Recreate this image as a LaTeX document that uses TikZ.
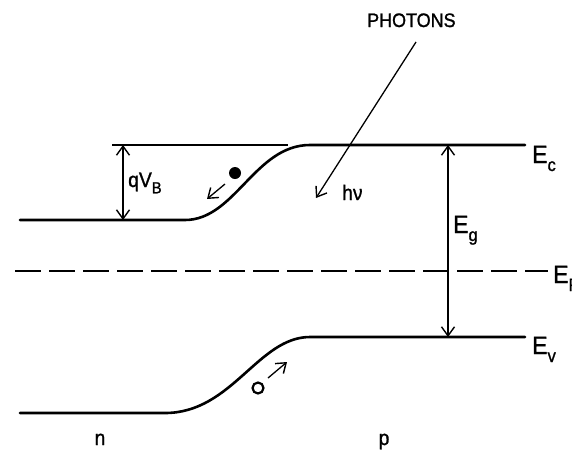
\documentclass[tikz,border=0pt]{standalone}
\usepackage{fontspec}
\setmainfont{Liberation Sans}[FakeBold=1.2,FakeStretch=0.92]
\usetikzlibrary{arrows.meta,shapes.geometric}
\newcommand\bandlab[2]{#1\raisebox{-.32em}{\fontsize{18}{18}\selectfont #2}}
\tikzset{
  band/.style={line width=2.6pt, line cap=round},
  thin/.style={line width=1.3pt},
  barb/.tip={Straight Barb[length=9pt,width=13pt,line width=1.4pt]},
  tip/.style={-barb},
  dtip/.style={barb-barb},
  lab/.style={inner sep=0pt, anchor=base west, font=\fontsize{25}{25}\selectfont},
  small/.style={inner sep=0pt, anchor=base west, font=\fontsize{21}{21}\selectfont}
}
\begin{document}
\begin{tikzpicture}[x=1pt,y=-1pt]
\useasboundingbox (0,0) rectangle (572,453);
% conduction band
\coordinate (c0) at (20,220);
\coordinate (c1) at (185,220);
\coordinate (c2) at (310,145);
\coordinate (c3) at (525,145);
\draw[band] (c0) -- (c1) .. controls (235,220) and (255,145) .. (c2) -- (c3);
% valence band
\coordinate (v0) at (20,413);
\coordinate (v1) at (165,413);
\coordinate (v2) at (310,337);
\coordinate (v3) at (525,337);
\draw[band] (v0) -- (v1) .. controls (232,413) and (258,337) .. (v2) -- (v3);
% Fermi level
\coordinate (f0) at (15,271);
\coordinate (f1) at (548,271);
\draw[line width=1.6pt, dash pattern=on 26pt off 8pt] (f0) -- (f1);
% reference line for qVB
\coordinate (r0) at (112,145);
\coordinate (r1) at (288,145);
\draw[thin] (r0) -- (r1);
% qVB arrow
\coordinate (qa) at (123,145);
\coordinate (qb) at (123,220);
\draw[thin, dtip] (qa) -- (qb);
\node[small] (qvb) at (128,187) {qV\raisebox{-.3em}{\fontsize{16}{16}\selectfont B}};
% Eg arrow
\coordinate (ga) at (448,145);
\coordinate (gb) at (448,337);
\draw[thin, dtip] (ga) -- (gb);
\node[lab] (eg) at (453,233) {\bandlab{E}{g}};
% band labels
\node[lab] (ec) at (532,163) {\bandlab{E}{c}};
\node[lab] (ef) at (553,283) {\bandlab{E}{F}};
\node[lab] (ev) at (532,354) {\bandlab{E}{v}};
% photons
\node[inner sep=0pt, anchor=base west, font=\fontsize{19.5}{19.5}\selectfont] (ph) at (367,27) {PHOTONS};
\coordinate (pa) at (416,42);
\coordinate (pb) at (316,198);
\draw[thin, tip] (pa) -- (pb);
\node[small] (hnu) at (342,200) {hν};
% electron
\node[circle, fill=black, minimum size=12pt, inner sep=0pt] (el) at (235,173) {};
\coordinate (ea) at (225,184);
\coordinate (eb) at (207,199);
\draw[thin, tip] (ea) -- (eb);
% hole
\node[ellipse, draw=black, line width=2.2pt, minimum width=11pt, minimum height=11pt, inner sep=0pt] (ho) at (258,388) {};
\coordinate (ha) at (268,378);
\coordinate (hb) at (287,362);
\draw[thin, tip] (ha) -- (hb);
% region labels
\node[small, anchor=base] (n) at (100,445) {n};
\node[small, anchor=base] (p) at (384,445) {p};
\end{tikzpicture}
\end{document}
